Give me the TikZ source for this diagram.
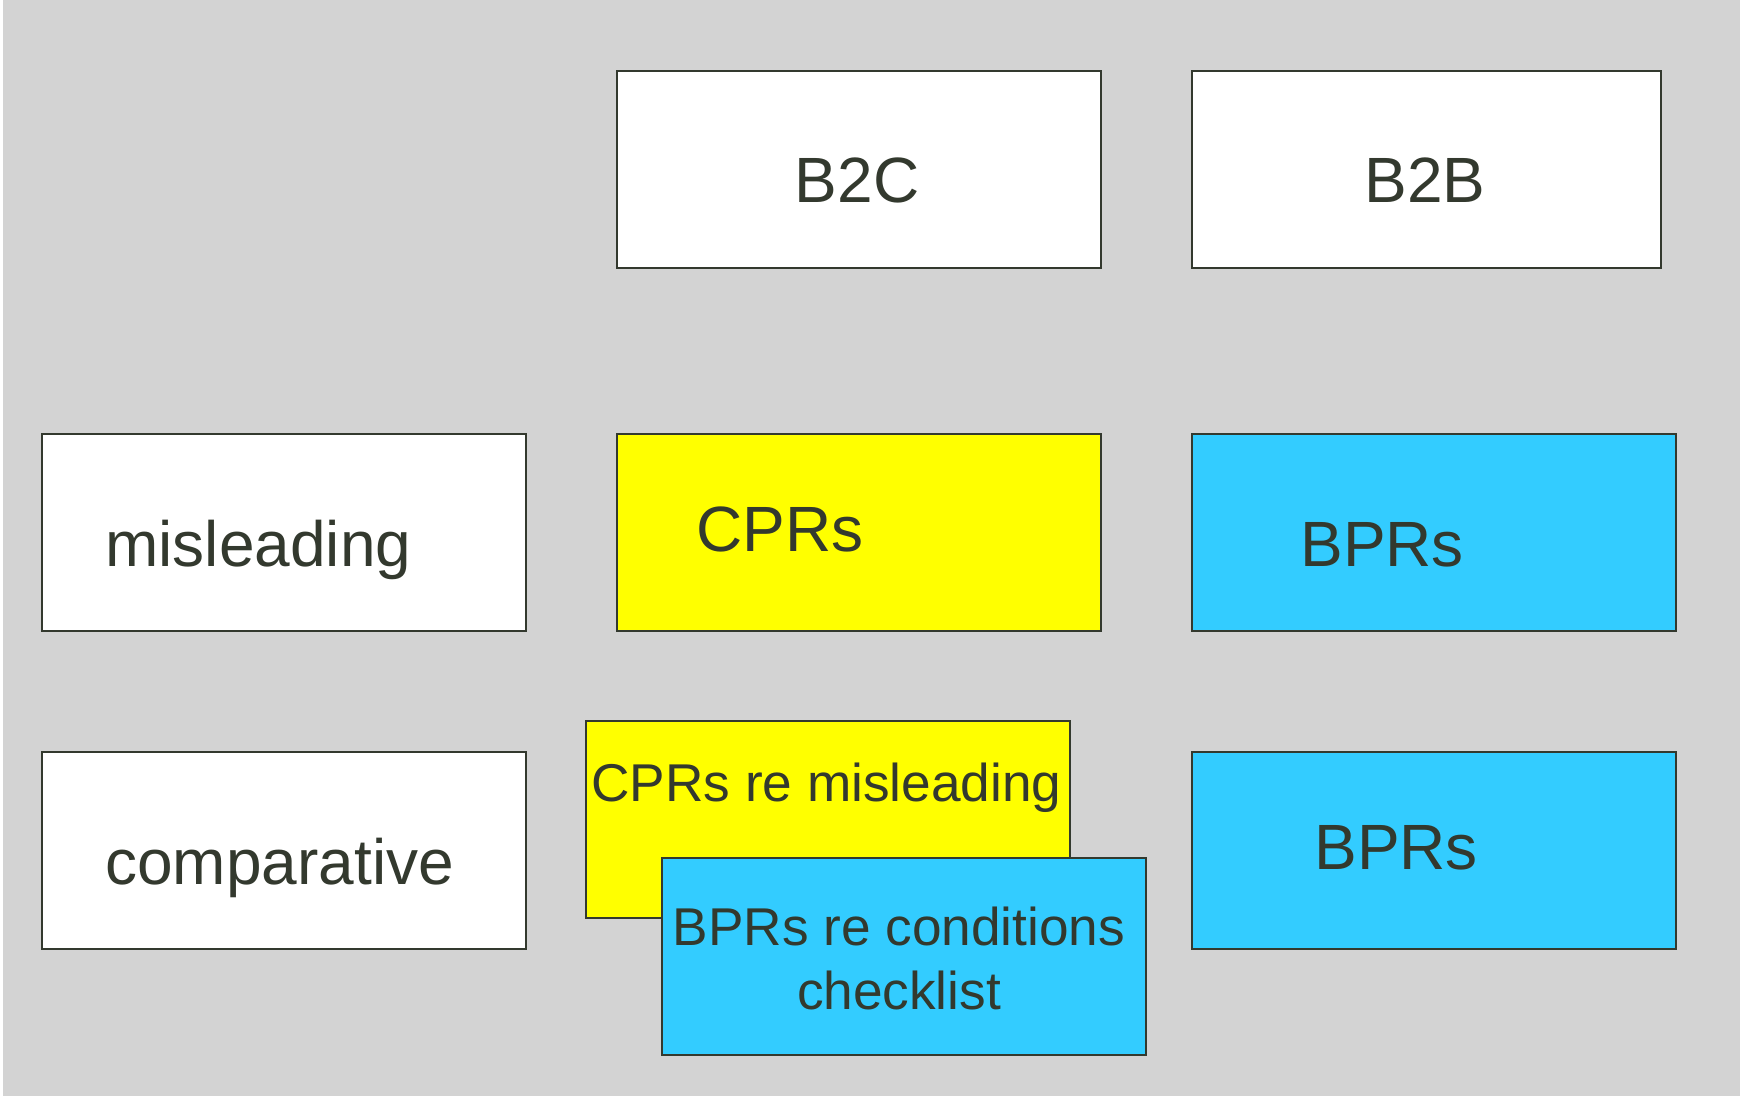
\documentclass[tikz,border=0pt]{standalone}
\usepackage{fontspec}
\setmainfont{Liberation Sans}
\usepackage{xcolor}
\usepackage{tikz}
\usetikzlibrary{positioning}

\definecolor{bggray}{RGB}{211,211,211}
\definecolor{cpryellow}{RGB}{255,255,0}
\definecolor{bprblue}{RGB}{51,204,255}
\definecolor{inkgray}{RGB}{51,57,46}

\begin{document}
\begin{tikzpicture}[x=0.5pt,y=-0.5pt]

\tikzset{cell/.style={rectangle, draw=inkgray, line width=1pt, anchor=north west,
   minimum width=242pt, minimum height=98.5pt, inner sep=0pt},
bigtext/.style={text=inkgray, font=\fontsize{32}{38}\selectfont, inner sep=0pt},
smalltext/.style={text=inkgray, font=\fontsize{26.6}{32}\selectfont, inner sep=0pt, align=center}}

% canvas
\useasboundingbox (0,0) rectangle (1740,1096);
\fill[white] (0,0) rectangle (1740,1096);
\fill[bggray] (3,0) rectangle (1740,1096);

% column heads
\node[cell, fill=white] (b2c) at (616,70) {};
\node[cell, fill=white, minimum width=234.5pt] (b2b) at (1191,70) {};

% rows
\node[cell, fill=white] (misl) at (41,433) {};
\node[cell, fill=cpryellow] (cprs) at (616,433) {};
\node[cell, fill=bprblue] (bprsA) at (1191,433) {};

\node[cell, fill=white] (comp) at (41,751) {};
\node[cell, fill=cpryellow] (cprmisl) at (585,720) {};
\node[cell, fill=bprblue] (bprcond) at (661,857) {};
\node[cell, fill=bprblue] (bprsB) at (1191,751) {};

% labels
\node[bigtext, anchor=base] (b2ctext) at (857,203) {B2C};
\node[bigtext, anchor=base] (b2btext) at (1425,203) {B2B};

\node[bigtext, anchor=base west] (misltext) at (105,566) {misleading};
\node[bigtext, anchor=base west] (cprstext) at (696,551) {CPRs};
\node[bigtext, anchor=base west] (bprsAtext) at (1300,566) {BPRs};

\node[bigtext, anchor=base west] (comptext) at (105,884) {comparative};
\node[smalltext, anchor=base west] (cprmisltext) at (591,801) {CPRs re misleading};
%% base of a two-line node sits on its last line
\node[smalltext, anchor=base] (bprcondtext) at (899,1009) {BPRs re conditions\\checklist};
\node[bigtext, anchor=base west] (bprsBtext) at (1314,869) {BPRs};

\end{tikzpicture}
\end{document}
